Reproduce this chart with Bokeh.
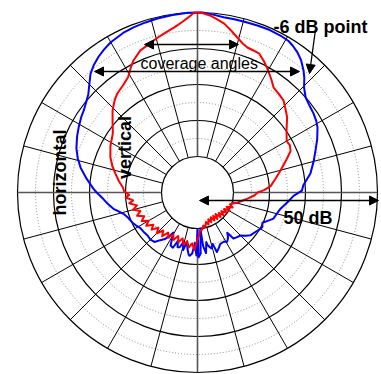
import numpy as np
from bokeh.plotting import figure
from bokeh.models import Range1d, Arrow, NormalHead, Label
from bokeh.embed import file_html
from bokeh.resources import INLINE

# ---- data: polar response (angle in degrees clockwise from front, level in dB) ----
h_angle = [-180, -179, -177, -175, -173, -172, -170, -168, -166, -164, -162, -160, -158, -156,
           -153, -151, -149, -147, -145, -142, -139, -135, -131, -127, -122, -118, -115, -110,
           -106, -101, -97, -94, -90, -88, -83, -78, -74, -70, -65, -61, -57, -54, -51, -48,
           -45, -42, -39, -36, -33, -30, -25, -21, -17, -13, -8, -3, 2, 5, 8.5, 12, 16, 20, 24,
           28, 31, 33, 35.5, 38, 41, 43, 45.5, 48.7, 52, 55.7, 59, 61.6, 66, 70.4, 75, 80.5, 86,
           89, 92, 96, 101, 105, 109, 112, 115, 118, 120, 124, 129, 132, 135, 139, 142, 143.5,
           146, 149, 152, 156, 159, 162, 163.5, 166, 169, 170, 172, 174, 175.5, 177, 179, 180]
h_level = [-40, -32.5, -36, -33, -32.3, -32.5, -34, -36, -33.5, -35.6, -34, -33.8, -35.5, -33.2,
           -33.5, -35.5, -37, -35.5, -34.2, -33.2, -31.8, -31.5, -31.7, -31.5, -31.3, -30.6, -30.1, -29.5,
           -28.6, -26.2, -24.8, -23.8, -22, -21.1, -19, -16.8, -15.4, -14.2, -13.1, -12.3, -11.5, -11, -10.2, -9.2,
           -7.5, -5.6, -4.3, -3.3, -2.5, -1.8, -1.1, -0.8, -0.6, -0.4, -0.2, 0, 0, -0.4, -0.8, -0.8, -0.8, -0.7, -0.6,
           -0.7, -0.9, -1.4, -2.2, -3.3, -5.1, -6.5, -8.5, -10, -10.6, -11, -11.5, -12.1, -13.6, -15.2, -16.6, -18.2, -20.5,
           -21, -23.3, -24.8, -26.5, -27.2, -27.7, -29, -30.1, -29.6, -29.8, -30.5, -31.1, -32, -33.1, -33.5, -33.8, -36.1,
           -34.8, -34, -34.5, -34.4, -33.5, -32.6, -35.1, -34, -35, -36, -33, -35, -40, -33, -32, -40]

v_angle = [-180, -177, -174, -171, -168, -165, -162, -159, -156, -153, -150, -147, -144, -141,
           -138, -135, -132, -129, -126, -123, -120, -117, -114, -111, -108, -105, -102, -99, -97,
           -94, -92, -89, -86, -82, -77, -73, -68, -62, -55, -50, -46, -42, -39, -35, -31, -28, -26,
           -22, -18, -14.5, -11, -8, -5, -3, -1, 1, 4, 6.5, 9, 12, 14.5, 17, 19, 21.5, 24, 27, 30,
           33, 36, 39.5, 43, 46.5, 50, 55, 60, 63, 66, 70, 75, 80, 85, 88, 90, 93, 97, 100, 104,
           107, 110, 113, 116, 119, 122, 125, 128, 131, 134, 137, 140, 143, 146, 149, 152, 155, 158,
           161, 164, 167, 170, 173, 176, 178, 180]
v_level = [-37, -34, -35.8, -34.5, -36.2, -35, -36.6, -35.2, -36.8, -35.2, -36.6, -35, -36.2, -34.4,
           -35.8, -34, -35.4, -33.6, -34.8, -33, -34.3, -32.6, -33.8, -32, -33.3, -31.5, -32.8, -30.8, -32,
           -30, -31, -29.6, -29.2, -28, -26.6, -25.3, -23.9, -22.6, -21.3, -19.2, -17.2, -15.6, -14.6, -13.8, -12.6, -10.6, -9.3,
           -7.5, -6.6, -5.6, -4.6, -3.7, -2.4, -1.3, 0, 0, -0.7, -1.6, -2.5, -4.2, -5.6, -6.8, -7.4, -7.6, -7.8, -9.2, -10.8,
           -12.4, -14, -14.5, -15, -16.3, -17.5, -19.8, -21.4, -21.2, -21.7, -23.8, -26.1, -28, -29.6, -31.5, -33.3, -34.2, -36, -37.2, -38.5,
           -39.6, -40.4, -39.4, -41, -39.8, -41.3, -40.2, -41.6, -40.4, -41.8, -40.6, -42.2, -40.8, -42.2, -40.9, -42.2, -40.9, -42,
           -40.6, -41.5, -40.2, -40.7, -39.6, -39.4, -38, -37]

db_floor = -50          # level at the centre
ring_levels = [-40, -30, -20, -10, 0]      # solid rings (10 dB)
dotted_levels = [-35, -25, -15, -5]        # dotted rings (5 dB)
spoke_angles = list(range(0, 360, 15))     # radial lines

# ---- geometry ----
CX, CY = 197, 192     # centre in page pixels
R = 180.0


def rad(db):
    return R * (np.asarray(db, dtype=float) - db_floor) / (0 - db_floor)


def pol(ang_deg, db):
    a = np.radians(np.asarray(ang_deg, dtype=float))
    r = rad(db)
    return r * np.sin(a), r * np.cos(a)


def T(X, Y):
    # page pixel coordinates -> data coordinates
    return (X - CX), (CY - Y)


W, H = 381, 374
p = figure(width=W, height=H, output_backend="svg", toolbar_location=None,
           x_range=Range1d(-CX, W - CX), y_range=Range1d(CY - H, CY),
           x_axis_location=None, y_axis_location=None, min_border=0)
p.grid.visible = False
p.outline_line_color = None
p.background_fill_color = "white"

# dotted rings
for lv in dotted_levels:
    p.circle(x=0, y=0, radius=float(rad(lv)), fill_color=None, line_color="#8a8a8a",
             line_dash="1 2", line_width=1)
# solid rings
for lv in ring_levels:
    p.circle(x=0, y=0, radius=float(rad(lv)), fill_color=None, line_color="black", line_width=1.2)

# spokes
sa = np.radians(spoke_angles)
r0, r1 = rad(ring_levels[0]), rad(ring_levels[-1])
cols = ["#555555" if a % 90 == 0 else "black" for a in spoke_angles]
wids = [1.6 if a % 90 == 0 else 1.0 for a in spoke_angles]
p.segment(x0=r0 * np.sin(sa), y0=r0 * np.cos(sa), x1=r1 * np.sin(sa), y1=r1 * np.cos(sa),
          line_color=cols, line_width=wids)

# curves
hx, hy = pol(h_angle, h_level)
vx, vy = pol(v_angle, v_level)
p.line(hx, hy, line_color="#0000ff", line_width=2, line_join="round")
p.line(vx, vy, line_color="#ff0000", line_width=2, line_join="round")


def head():
    return NormalHead(size=9, fill_color="black", line_color="black", line_width=1)


def arrow(x0, y0, x1, y1, both=True):
    xa, ya = T(x0, y0)
    xb, yb = T(x1, y1)
    p.add_layout(Arrow(start=head() if both else None, end=head(),
                       x_start=xa, y_start=ya, x_end=xb, y_end=yb,
                       line_color="black", line_width=1.3))


arrow(144, 44, 238, 44)     # vertical coverage
arrow(94, 71, 299, 71)      # horizontal coverage
arrow(199, 200, 378, 200)   # 50 dB
arrow(315, 29, 309, 73, both=False)   # -6 dB point

FONT = "Liberation Sans"


def label(text, X, Y, size, bold=False, angle=0.0, align="left"):
    x, y = T(X, Y)
    p.add_layout(Label(x=x, y=y, text=text, text_font=FONT, text_font_size=size,
                       text_font_style="bold" if bold else "normal", text_color="black",
                       text_align=align, text_baseline="alphabetic", angle=angle))


label("-6 dB point", 273, 26, "18px", bold=True)
label("coverage angles", 140, 63, "16px")
label("50 dB", 283, 217, "18px", bold=True)
label("horizontal", 59, 172, "18px", bold=True, angle=np.pi / 2, align="center")
label("vertical", 124, 147, "18px", bold=True, angle=np.pi / 2, align="center")

open("out.html", "w").write(file_html(p, INLINE))
